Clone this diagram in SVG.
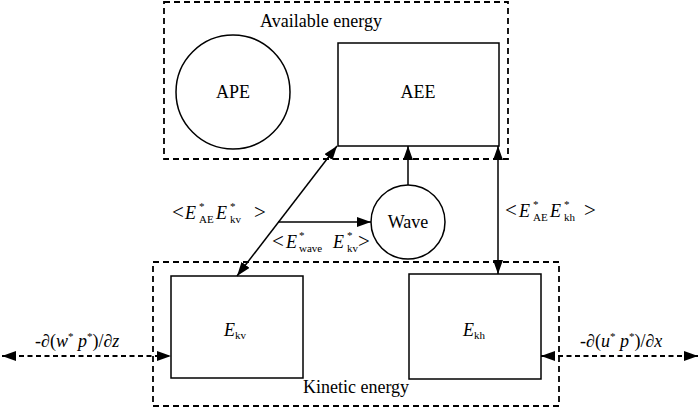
<svg xmlns="http://www.w3.org/2000/svg" width="700" height="408" viewBox="0 0 700 408">
<style>
  text { font-family: 'Liberation Serif', 'Times New Roman', 'DejaVu Serif', serif; fill: #000; }
  .lbl { font-size: 18px; }
  .it { font-style: italic; }
  .sub { font-size: 11px; }
  .sup { font-size: 11px; }
  .br { font-size: 21px; }
  .group { fill: none; stroke: #000; stroke-width: 1.8; stroke-dasharray: 6 4; }
  .node { fill: #fff; stroke: #000; stroke-width: 1.5; }
  .conn { fill: none; stroke: #000; stroke-width: 1.5; }
  .dconn { fill: none; stroke: #000; stroke-width: 1.8; stroke-dasharray: 5 3.5; }
</style>
<defs>
  <marker id="ah" viewBox="0 0 14 10" refX="14" refY="5" markerWidth="14" markerHeight="10" markerUnits="userSpaceOnUse" orient="auto-start-reverse">
    <path d="M0,0 L14,5 L0,10 Z" fill="#000" stroke="none"/>
  </marker>
</defs>

<g id="available-energy">
  <rect class="group" x="164" y="2" width="344" height="157"/>
  <text class="lbl" x="321" y="27" text-anchor="middle">Available energy</text>
</g>
<g id="kinetic-energy">
  <rect class="group" x="153" y="262" width="406" height="144"/>
  <text class="lbl" x="356" y="393" text-anchor="middle">Kinetic energy</text>
</g>

<g id="APE">
  <circle class="node" cx="233" cy="92" r="57"/>
  <text class="lbl" x="233" y="98" text-anchor="middle">APE</text>
</g>
<g id="AEE">
  <rect class="node" x="338" y="43" width="161" height="103"/>
  <text class="lbl" x="418" y="98" text-anchor="middle">AEE</text>
</g>
<g id="Wave">
  <circle class="node" cx="408" cy="222" r="37"/>
  <text class="lbl" x="408" y="228" text-anchor="middle">Wave</text>
</g>
<g id="Ekv">
  <rect class="node" x="171" y="276" width="132" height="102"/>
  <text class="lbl" x="224" y="336"><tspan class="it">E</tspan><tspan class="sub" dy="3">kv</tspan></text>
</g>
<g id="Ekh">
  <rect class="node" x="409" y="274" width="132" height="105"/>
  <text class="lbl" x="463" y="336"><tspan class="it">E</tspan><tspan class="sub" dy="3">kh</tspan></text>
</g>

<g id="connectors">
  <line class="conn" x1="237" y1="276" x2="337" y2="146" marker-start="url(#ah)" marker-end="url(#ah)"/>
  <line class="conn" x1="278" y1="222" x2="371" y2="222" marker-end="url(#ah)"/>
  <line class="conn" x1="408" y1="185" x2="408" y2="146" marker-end="url(#ah)"/>
  <line class="conn" x1="498" y1="146" x2="498" y2="274" marker-start="url(#ah)" marker-end="url(#ah)"/>
  <line class="dconn" x1="2" y1="356" x2="171" y2="356" marker-start="url(#ah)" marker-end="url(#ah)"/>
  <line class="dconn" x1="541" y1="356" x2="698" y2="356" marker-start="url(#ah)" marker-end="url(#ah)"/>
</g>

<g id="labels">
  <text class="lbl" y="219"><tspan x="172" class="br">&lt;</tspan><tspan x="185" class="it">E</tspan><tspan x="199" y="210" class="sup">*</tspan><tspan x="199" y="223" class="sub">AE</tspan><tspan x="216" y="219" class="it">E</tspan><tspan x="230" y="210" class="sup">*</tspan><tspan x="230" y="223" class="sub">kv</tspan><tspan x="254" y="219" class="br">&gt;</tspan></text>
  <text class="lbl" y="248"><tspan x="272" class="br">&lt;</tspan><tspan x="286" class="it">E</tspan><tspan x="299" y="239" class="sup">*</tspan><tspan x="299" y="252" class="sub">wave</tspan><tspan x="333" y="248" class="it">E</tspan><tspan x="347" y="239" class="sup">*</tspan><tspan x="347" y="252" class="sub">kv</tspan><tspan x="358" y="248" class="br">&gt;</tspan></text>
  <text class="lbl" y="217"><tspan x="505" class="br">&lt;</tspan><tspan x="519" class="it">E</tspan><tspan x="533" y="208" class="sup">*</tspan><tspan x="533" y="221" class="sub">AE</tspan><tspan x="550" y="217" class="it">E</tspan><tspan x="564" y="208" class="sup">*</tspan><tspan x="564" y="221" class="sub">kh</tspan><tspan x="584" y="217" class="br">&gt;</tspan></text>
  <text class="lbl" x="35" y="347">-∂(<tspan class="it">w</tspan><tspan class="sup" dy="-7">*</tspan><tspan dy="7"> </tspan><tspan class="it">p</tspan><tspan class="sup" dy="-7">*</tspan><tspan dy="7">)/∂</tspan><tspan class="it">z</tspan></text>
  <text class="lbl" x="580" y="347">-∂(<tspan class="it">u</tspan><tspan class="sup" dy="-7">*</tspan><tspan dy="7"> </tspan><tspan class="it">p</tspan><tspan class="sup" dy="-7">*</tspan><tspan dy="7">)/∂</tspan><tspan class="it">x</tspan></text>
</g>
</svg>
